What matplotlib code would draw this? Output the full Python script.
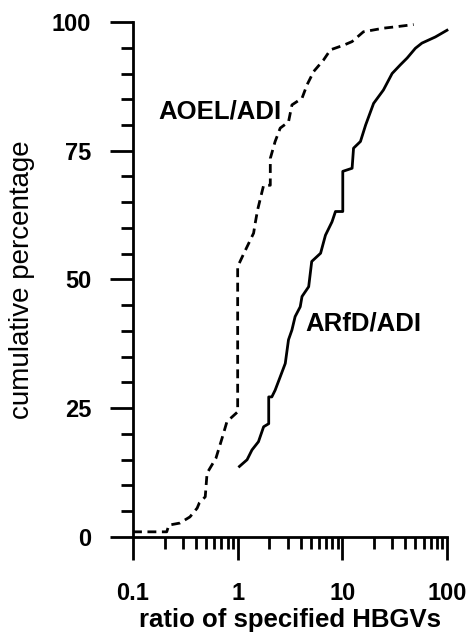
import numpy as np
import matplotlib as mpl
mpl.use('Agg')
import matplotlib.pyplot as plt
from matplotlib.ticker import FixedLocator, NullFormatter, LogLocator

plt.rcParams['font.family'] = ['Liberation Sans', 'DejaVu Sans']

# AOEL/ADI (dashed) - cumulative curve
aoel_x = [0.1, 0.21, 0.22, 0.28, 0.35, 0.41, 0.43, 0.49, 0.51, 0.62, 0.71, 0.79,
          1.0, 1.0, 1.13, 1.42, 1.47, 1.55, 1.77, 2.05, 2.05, 2.28, 2.55, 3.06, 3.3,
          4.12, 4.6, 5.33, 6.6, 7.7, 10.3, 12.4, 15.9, 24.7, 33.3, 48]
aoel_y = [1.0, 1.0, 2.3, 2.7, 3.9, 5.6, 6.6, 7.8, 12.4, 15.3, 19.2, 22.4,
          24.3, 52.5, 54.8, 59.0, 60.9, 63.5, 68.3, 68.3, 73.5, 76.8, 79.4, 80.6, 83.9,
          85.2, 87.8, 90.4, 92.6, 94.6, 95.5, 96.2, 98.1, 98.8, 99.1, 99.5]

# ARfD/ADI (solid)
arfd_x = [1.04, 1.23, 1.37, 1.58, 1.77, 1.98, 1.98, 2.12, 2.28, 2.55, 2.85, 3.06, 3.3,
          3.54, 3.96, 4.12, 4.77, 5.1, 6.2, 6.9, 7.97, 8.6, 10.1, 10.1, 12.4, 12.8,
          14.9, 16.7, 19.9, 24.7, 29.9, 35.9, 41.6, 49.9, 57.6, 77.5, 100]
arfd_y = [13.7, 15.0, 16.9, 18.5, 21.4, 22.0, 27.2, 27.2, 28.5, 31.1, 33.7, 38.3, 40.2,
          42.8, 44.7, 46.7, 48.6, 53.5, 55.1, 58.6, 61.2, 63.2, 63.2, 71.0, 71.6, 75.5,
          76.8, 80.0, 84.2, 86.8, 90.0, 91.7, 93.0, 94.9, 95.9, 97.1, 98.4]

y_major = [0, 25, 50, 75, 100]
x_major = [0.1, 1, 10, 100]
x_labels = ['0.1', '1', '10', '100']

fig = plt.figure(figsize=(4.73, 6.36), dpi=100)
ax = fig.add_axes([0.2812, 0.1557, 0.6638, 0.8097])
lw = 2.0

ax.plot(aoel_x, aoel_y, color='black', lw=lw, linestyle=(0, (3.2, 2)),
        clip_on=False)
ax.plot(arfd_x, arfd_y, color='black', lw=lw, clip_on=False)

ax.set_xscale('log')
ax.set_xlim(0.1, 100)
ax.set_ylim(0, 100)

ax.spines['top'].set_visible(False)
ax.spines['right'].set_visible(False)
ax.spines['left'].set_linewidth(lw)
ax.spines['bottom'].set_linewidth(lw)

ax.xaxis.set_major_locator(FixedLocator(x_major))
ax.set_xticklabels(x_labels)
ax.xaxis.set_minor_locator(LogLocator(base=10, subs=np.arange(2, 10)))
ax.xaxis.set_minor_formatter(NullFormatter())
ax.yaxis.set_major_locator(FixedLocator(y_major))
ax.yaxis.set_minor_locator(FixedLocator(np.arange(0, 101, 5)))

ax.tick_params(which='major', length=16.5, width=lw, direction='out')
ax.tick_params(which='minor', length=8.6, width=lw, direction='out')
ax.tick_params(axis='y', which='major', pad=13.5)
ax.tick_params(axis='x', which='major', pad=16)
for lab in ax.get_xticklabels() + ax.get_yticklabels():
    lab.set_fontsize(17)
    lab.set_fontweight('bold')

ax.set_xlabel('ratio of specified HBGVs', fontsize=18.5, fontweight='bold', labelpad=2)
ax.set_ylabel('cumulative percentage', fontsize=20, labelpad=12)

ax.text(0.173, 82.7, 'AOEL/ADI', fontsize=18.5, fontweight='bold', va='center')
ax.text(4.4, 41.4, 'ARfD/ADI', fontsize=18.5, fontweight='bold', va='center')

fig.savefig('out.png', dpi=100)
